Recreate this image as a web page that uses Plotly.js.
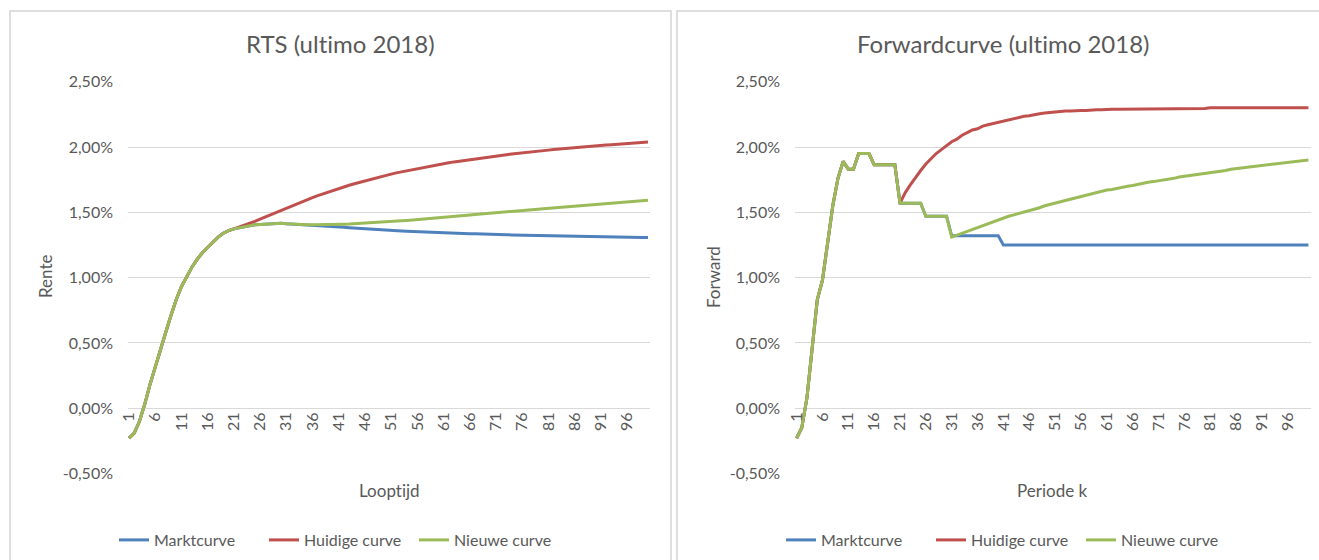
<!DOCTYPE html>
<html><head><meta charset="utf-8">
<script src="https://cdn.plot.ly/plotly-3.0.1.min.js"></script>
<style>html,body{margin:0;padding:0;background:#fff;overflow:hidden}#chart{width:1319px;height:560px}
svg text{font-variant-ligatures:none !important;font-feature-settings:"liga" 0,"clig" 0 !important;}</style>
</head><body><div id="chart"></div>
<script>
// ---------- data (values in %) ----------
const looptijd = []; for (let i = 1; i <= 100; i++) looptijd.push(i);

const xTickVals = [1,6,11,16,21,26,31,36,41,46,51,56,61,66,71,76,81,86,91,96];
const xTickText = ["1","6","11","16","21","26","31","36","41","46","51","56","61","66","71","76","81","86","91","96"];
const yTickVals = [-0.5,0,0.5,1,1.5,2,2.5];
const yTickText = ["-0,50%","0,00%","0,50%","1,00%","1,50%","2,00%","2,50%"];

const seriesNames = ["Marktcurve","Huidige curve","Nieuwe curve"];
const seriesColors = ["#4f81bd","#c0504d","#9bbb59"];

const rtsMarkt = [
-0.23,-0.19,-0.10,0.03,0.18,0.32,0.45,0.58,0.71,0.83,0.93,1.01,1.08,1.14,1.19,1.23,1.27,1.31,1.34,1.36,
1.373,1.382,1.390,1.398,1.405,1.407,1.409,1.412,1.414,1.416,
1.412,1.410,1.407,1.404,1.402,1.400,1.397,1.395,1.393,1.392,
1.388,1.385,1.382,1.379,1.376,1.373,1.371,1.368,1.366,1.363,
1.361,1.359,1.357,1.355,1.353,1.351,1.349,1.348,1.346,1.344,
1.343,1.341,1.340,1.339,1.337,1.336,1.335,1.333,1.332,1.331,
1.330,1.329,1.328,1.327,1.326,1.325,1.324,1.323,1.322,1.321,
1.320,1.319,1.318,1.317,1.317,1.316,1.315,1.314,1.314,1.313,
1.312,1.312,1.311,1.310,1.310,1.309,1.308,1.308,1.307,1.307];

const rtsHuidig = [
-0.23,-0.19,-0.10,0.03,0.18,0.32,0.45,0.58,0.71,0.83,0.93,1.01,1.08,1.14,1.19,1.23,1.27,1.31,1.34,1.36,
1.373,1.386,1.400,1.415,1.431,1.448,1.465,1.483,1.500,1.517,
1.534,1.550,1.566,1.583,1.598,1.613,1.628,1.642,1.656,1.669,
1.682,1.695,1.707,1.719,1.730,1.742,1.752,1.763,1.773,1.783,
1.792,1.802,1.810,1.819,1.827,1.836,1.843,1.851,1.858,1.865,
1.872,1.879,1.886,1.892,1.898,1.904,1.910,1.915,1.921,1.926,
1.931,1.936,1.941,1.946,1.951,1.955,1.960,1.964,1.968,1.972,
1.976,1.980,1.984,1.988,1.991,1.995,1.999,2.002,2.005,2.009,
2.012,2.015,2.018,2.021,2.024,2.027,2.030,2.032,2.035,2.038];

const rtsNieuw = [
-0.23,-0.19,-0.10,0.03,0.18,0.32,0.45,0.58,0.71,0.83,0.93,1.01,1.08,1.14,1.19,1.23,1.27,1.31,1.34,1.36,
1.373,1.382,1.390,1.398,1.405,1.407,1.409,1.412,1.414,1.416,
1.412,1.409,1.407,1.406,1.405,1.404,1.404,1.404,1.405,1.406,
1.407,1.409,1.410,1.412,1.414,1.416,1.419,1.421,1.424,1.427,
1.429,1.432,1.435,1.438,1.441,1.445,1.448,1.451,1.455,1.458,
1.462,1.465,1.469,1.472,1.476,1.479,1.483,1.486,1.490,1.493,
1.497,1.500,1.504,1.507,1.511,1.514,1.518,1.521,1.524,1.528,
1.531,1.535,1.538,1.541,1.545,1.548,1.552,1.555,1.558,1.562,
1.565,1.568,1.571,1.574,1.578,1.581,1.584,1.587,1.590,1.593];

const fwdMarkt = [
-0.23,-0.15,0.08,0.45,0.83,0.98,1.27,1.55,1.76,1.89,1.83,1.83,1.95,1.95,1.95,1.865,1.865,1.865,1.865,1.865,
1.57,1.57,1.57,1.57,1.57,1.47,1.47,1.47,1.47,1.47,
1.32,1.32,1.32,1.32,1.32,1.32,1.32,1.32,1.32,1.32,
1.25,1.25,1.25,1.25,1.25,1.25,1.25,1.25,1.25,1.25,
1.25,1.25,1.25,1.25,1.25,1.25,1.25,1.25,1.25,1.25,
1.25,1.25,1.25,1.25,1.25,1.25,1.25,1.25,1.25,1.25,
1.25,1.25,1.25,1.25,1.25,1.25,1.25,1.25,1.25,1.25,
1.25,1.25,1.25,1.25,1.25,1.25,1.25,1.25,1.25,1.25,
1.25,1.25,1.25,1.25,1.25,1.25,1.25,1.25,1.25,1.25];

const fwdHuidig = [
-0.23,-0.15,0.08,0.45,0.83,0.98,1.27,1.55,1.76,1.89,1.83,1.83,1.95,1.95,1.95,1.865,1.865,1.865,1.865,1.865,
1.57,1.65,1.71,1.77,1.82,1.87,1.91,1.95,1.98,2.01,
2.04,2.06,2.09,2.11,2.13,2.14,2.16,2.17,2.18,2.19,
2.20,2.21,2.22,2.23,2.235,2.24,2.25,2.255,2.26,2.265,
2.27,2.27,2.275,2.275,2.28,2.28,2.28,2.285,2.285,2.285,
2.29,2.29,2.29,2.29,2.29,2.29,2.29,2.29,2.29,2.29,
2.295,2.295,2.295,2.295,2.295,2.295,2.295,2.295,2.295,2.295,
2.30,2.30,2.30,2.30,2.30,2.30,2.30,2.30,2.30,2.30,
2.30,2.30,2.30,2.30,2.30,2.30,2.30,2.30,2.30,2.30];

const fwdNieuw = [
-0.23,-0.15,0.08,0.45,0.83,0.98,1.27,1.55,1.76,1.89,1.83,1.83,1.95,1.95,1.95,1.865,1.865,1.865,1.865,1.865,
1.57,1.57,1.57,1.57,1.57,1.47,1.47,1.47,1.47,1.47,
1.31,1.325,1.34,1.355,1.37,1.385,1.40,1.415,1.43,1.445,
1.46,1.47,1.48,1.49,1.50,1.515,1.525,1.535,1.55,1.56,
1.57,1.58,1.59,1.60,1.61,1.625,1.635,1.645,1.655,1.66,
1.67,1.675,1.685,1.69,1.70,1.705,1.715,1.72,1.73,1.735,
1.74,1.75,1.755,1.76,1.77,1.775,1.78,1.785,1.795,1.80,
1.805,1.81,1.815,1.82,1.83,1.835,1.84,1.845,1.85,1.855,
1.86,1.865,1.87,1.87,1.875,1.88,1.885,1.89,1.895,1.90];

// ---------- layout helpers ----------
const W = 1319, H = 560;
const px = v => v / W;
const py = v => 1 - v / H;
const FONT = "Lato, 'Open Sans', sans-serif";
const GREY = "#595959";
const yDom = [py(473.5), py(81.7)];
const zeroPos = yDom[0] + (yDom[1] - yDom[0]) * (0.5 / 3.0);

function mk(y, i, xa, ya, lg) {
  return { x: looptijd, y: y, type: "scatter", mode: "lines", name: seriesNames[i],
    xaxis: xa, yaxis: ya, legend: lg, line: { color: seriesColors[i], width: 3 }, hoverinfo: "skip" };
}
const data = [
  mk(rtsMarkt, 0, "x", "y", "legend"),
  mk(rtsHuidig, 1, "x", "y", "legend"),
  mk(rtsNieuw, 2, "x", "y", "legend"),
  mk(fwdMarkt, 0, "x2", "y2", "legend2"),
  mk(fwdHuidig, 1, "x2", "y2", "legend2"),
  mk(fwdNieuw, 2, "x2", "y2", "legend2")
];

function xax(dom, rng) {
  return { domain: dom, range: rng, anchor: "free", position: zeroPos,
    tickmode: "array", tickvals: xTickVals, ticktext: xTickText, tickangle: -90,
    tickfont: { family: FONT, size: 16, color: GREY }, showgrid: false, zeroline: false,
    showline: false, ticks: "", fixedrange: true };
}
function yax(anchor) {
  return { domain: yDom, range: [-0.5, 2.5], anchor: anchor, tickmode: "array",
    tickvals: yTickVals, ticktext: yTickText, tickfont: { family: FONT, size: 16, color: GREY },
    showgrid: true, gridcolor: "#d9d9d9", gridwidth: 1, zeroline: false, showline: false,
    ticks: "", ticklabelstandoff: 14, fixedrange: true };
}
function leg(xpix) {
  return { orientation: "h", x: px(xpix), xanchor: "left", y: py(540), yanchor: "middle",
    font: { family: FONT, size: 16, color: GREY }, bgcolor: "rgba(0,0,0,0)",
    entrywidth: 105, entrywidthmode: "pixels", itemclick: false, itemdoubleclick: false };
}
function ann(text, xp, yp, size, angle) {
  return { text: text, x: px(xp), y: py(yp), xref: "paper", yref: "paper", showarrow: false,
    xanchor: "center", yanchor: "middle", textangle: angle || 0,
    font: { family: FONT, size: size, color: GREY } };
}

const layout = {
  width: W, height: H, margin: { l: 0, r: 0, t: 0, b: 0 },
  paper_bgcolor: "#fff", plot_bgcolor: "rgba(0,0,0,0)",
  xaxis: xax([px(128), px(650)], [0.81, 100.38]),
  yaxis: yax("x"),
  xaxis2: xax([px(795), px(1311)], [0.69, 100.5]),
  yaxis2: yax("x2"),
  legend: leg(114),
  legend2: leg(781),
  showlegend: true,
  annotations: [
    ann("RTS (ultimo 2018)", 340, 44, 24),
    ann("Forwardcurve (ultimo 2018)", 1003, 44, 24),
    ann("Rente", 45, 277, 17, -90),
    ann("Forward", 713, 277, 17, -90),
    ann("Looptijd", 389, 490, 17),
    ann("Periode k", 1052, 490, 17)
  ],
  shapes: [
    { type: "rect", xref: "paper", yref: "paper", x0: px(10), x1: px(671), y0: py(580), y1: py(11),
      line: { color: "#d4d4d4", width: 1.5 }, fillcolor: "rgba(0,0,0,0)", layer: "below" },
    { type: "rect", xref: "paper", yref: "paper", x0: px(677), x1: px(1345), y0: py(580), y1: py(11),
      line: { color: "#d4d4d4", width: 1.5 }, fillcolor: "rgba(0,0,0,0)", layer: "below" }
  ]
};

Plotly.newPlot("chart", data, layout, { staticPlot: true, displayModeBar: false });
</script></body></html>
